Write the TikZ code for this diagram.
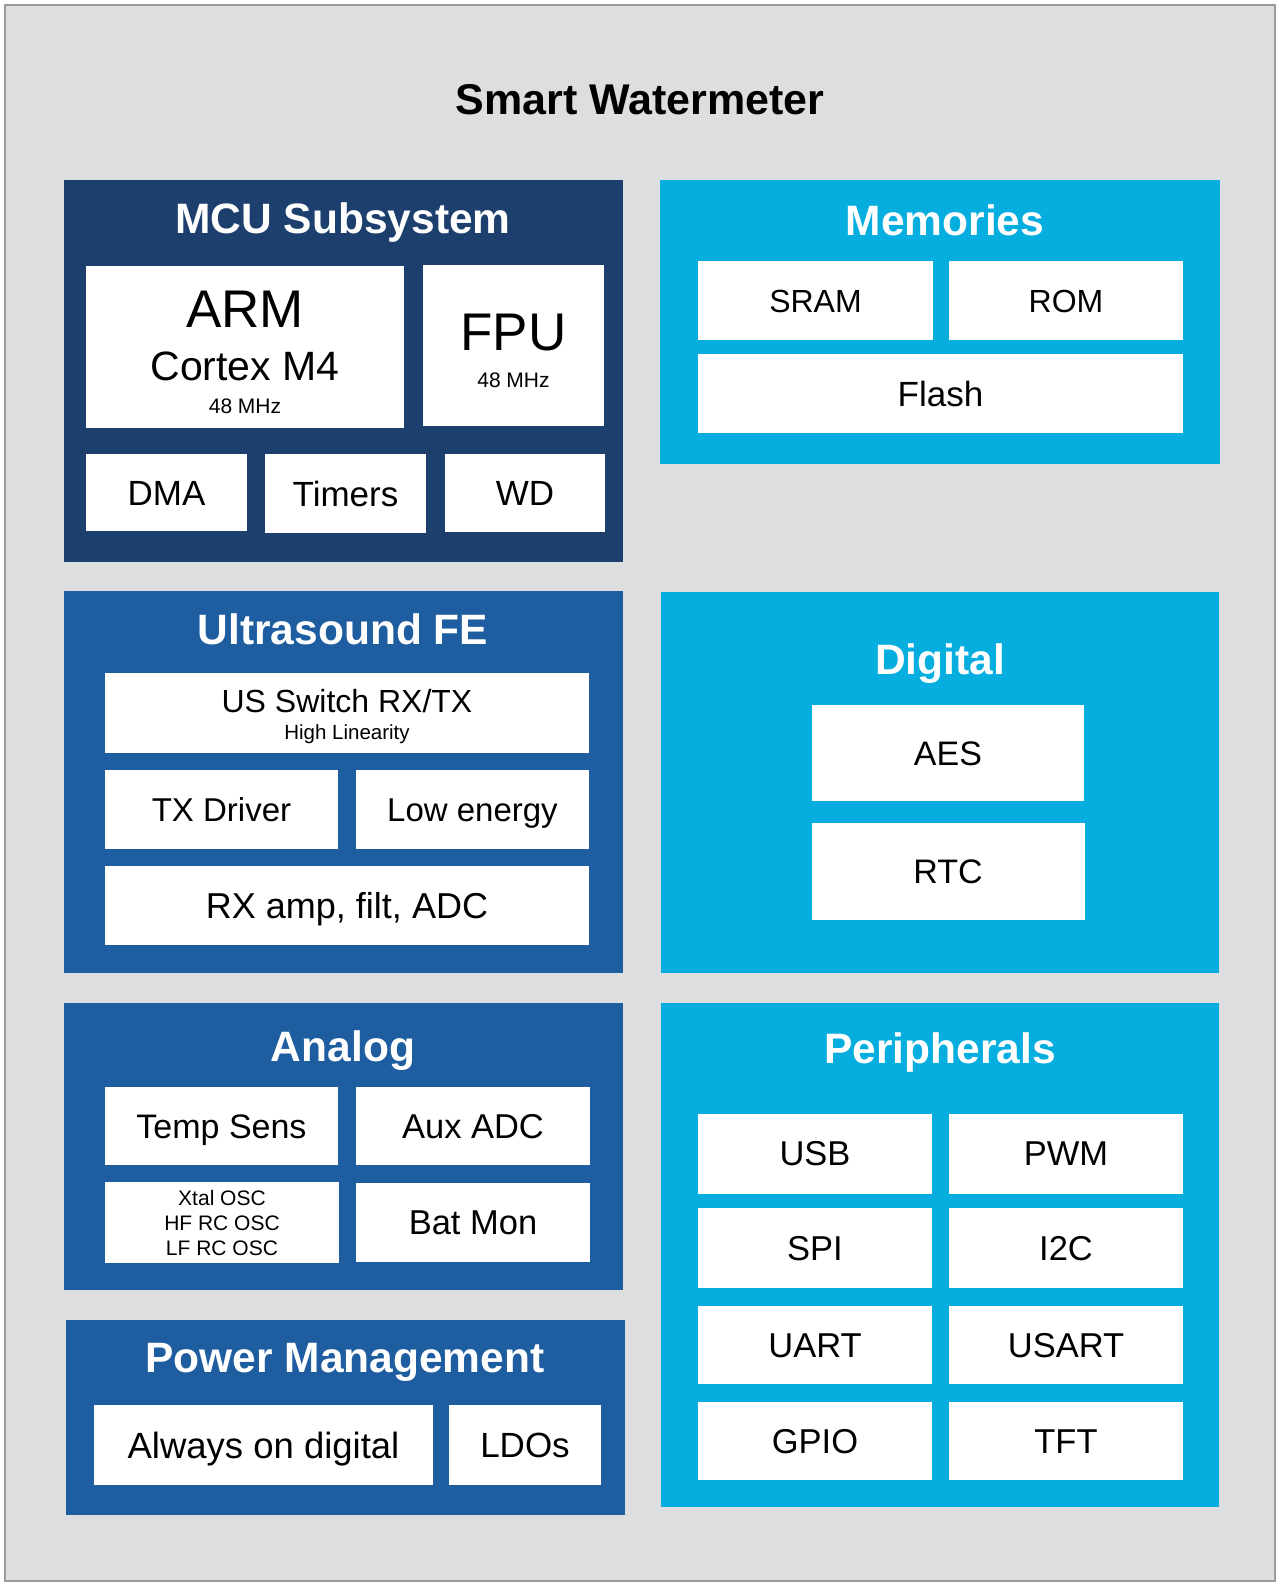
\documentclass[tikz,border=0pt]{standalone}
\usepackage{fontspec}
\setmainfont{Liberation Sans}
\usetikzlibrary{positioning}
\definecolor{wmBack}{HTML}{DCDEE0}
\definecolor{wmFrame}{HTML}{9B9B9B}
\definecolor{wmNavy}{HTML}{1C3F6E}
\definecolor{wmBlue}{HTML}{1E5DA0}
\definecolor{wmCyan}{HTML}{06AEE0}
\newcommand{\wmfs}[1]{\fontsize{#1}{#1}\selectfont}

\begin{document}
\begin{tikzpicture}[x=1pt,y=-1pt,
  g/.style={fill=#1,inner sep=0pt,outer sep=0pt},
  b/.style={fill=white,inner sep=0pt,outer sep=0pt,font=\wmfs{#1},
            text height=0.72*#1pt,text depth=0pt,align=center},
  b/.default=33,
  t/.style={text=white,font=\wmfs{42.5}\bfseries,anchor=base,inner sep=0pt},
  l/.style={font=\wmfs{#1},anchor=base,inner sep=0pt}]
\useasboundingbox (0,0) rectangle (1280,1584);
\fill[white] (0,0) rectangle (1280,1584);
\draw[wmFrame,fill=wmBack,line width=2pt] (5,5) rectangle (1275,1581);
\node[font=\wmfs{43}\bfseries,anchor=base,inner sep=0pt] (title) at (640,115) {Smart Watermeter};

% left column
\node[g=wmNavy,minimum width=559pt,minimum height=382pt] (mcu) at (343.5,371) {};
\node[t] (mcut) at (343,233) {MCU Subsystem};
\node[b,minimum width=318pt,minimum height=162pt] (arm) at (245,347) {};
\node[l=53] (armt) at (245,327) {ARM};
\node[l=41] (armc) at (245,380) {Cortex M4};
\node[l=21] (armf) at (245,413) {48 MHz};
\node[b,minimum width=181pt,minimum height=161pt] (fpu) at (513.5,345.5) {};
\node[l=53] (fput) at (513.5,350) {FPU};
\node[l=21] (fpuf) at (513.5,387) {48 MHz};
\node[b=35,minimum width=161pt,minimum height=77pt] (dma) at (166.5,492.5) {DMA};
\node[b=35,minimum width=161pt,minimum height=79pt] (tmr) at (345.5,493.5) {Timers};
\node[b=35,minimum width=160pt,minimum height=78pt] (wd) at (525,493) {WD};

\node[g=wmBlue,minimum width=559pt,minimum height=382pt] (us) at (343.5,782) {};
\node[t] (ust) at (343,644) {Ultrasound FE};
\node[b,minimum width=484pt,minimum height=80pt] (usw) at (347,713) {};
\node[l=32] (uswt) at (347,712) {US Switch RX/TX};
\node[l=20.5] (uswl) at (347,739) {High Linearity};
\node[b,minimum width=233pt,minimum height=79pt] (txd) at (221.5,809.5) {TX Driver};
\node[b,minimum width=233pt,minimum height=79pt] (lowe) at (472.5,809.5) {Low energy};
\node[b=36,minimum width=484pt,minimum height=79pt] (rxa) at (347,905.5) {RX amp, filt, ADC};

\node[g=wmBlue,minimum width=559pt,minimum height=287pt] (ana) at (343.5,1146.5) {};
\node[t] (anat) at (343,1061) {Analog};
\node[b=34,minimum width=233pt,minimum height=78pt] (temp) at (221.5,1126) {Temp Sens};
\node[b=34.5,minimum width=234pt,minimum height=78pt] (aux) at (473,1126) {Aux ADC};
\node[b,minimum width=234pt,minimum height=81pt] (osc) at (222,1222.5) {};
\node[l=21] (osc1) at (222,1205) {Xtal OSC};
\node[l=21] (osc2) at (222,1230) {HF RC OSC};
\node[l=21] (osc3) at (222,1255) {LF RC OSC};
\node[b=34.5,minimum width=234pt,minimum height=79pt] (bat) at (473,1222.5) {Bat Mon};

\node[g=wmBlue,minimum width=559pt,minimum height=195pt] (pwr) at (345.5,1417.5) {};
\node[t] (pwrt) at (345,1372) {Power Management};
\node[b=36.5,minimum width=339pt,minimum height=80pt] (aod) at (263.5,1445) {Always on digital};
\node[b=35,minimum width=152pt,minimum height=80pt] (ldo) at (525,1445) {LDOs};

% right column
\node[g=wmCyan,minimum width=560pt,minimum height=284pt] (mem) at (940,322) {};
\node[t] (memt) at (945,235) {Memories};
\node[b=32,minimum width=235pt,minimum height=79pt] (sram) at (815.5,300.5) {SRAM};
\node[b=32,minimum width=234pt,minimum height=79pt] (rom) at (1066,300.5) {ROM};
\node[b=35,minimum width=485pt,minimum height=79pt] (flash) at (940.5,393.5) {Flash};

\node[g=wmCyan,minimum width=558pt,minimum height=381pt] (dig) at (940,782.5) {};
\node[t] (digt) at (940,674) {Digital};
\node[b=34,minimum width=272pt,minimum height=96pt] (aes) at (948,753) {AES};
\node[b=34,minimum width=273pt,minimum height=97pt] (rtc) at (948,871.5) {RTC};

\node[g=wmCyan,minimum width=558pt,minimum height=504pt] (per) at (940,1255) {};
\node[t] (pert) at (940,1063) {Peripherals};
\node[b=34.5,minimum width=234pt,minimum height=80pt] (usb) at (815,1153.5) {USB};
\node[b=34.5,minimum width=234pt,minimum height=80pt] (pwm) at (1066,1153.5) {PWM};
\node[b=34.5,minimum width=234pt,minimum height=80pt] (spi) at (815,1248) {SPI};
\node[b=34.5,minimum width=234pt,minimum height=80pt] (i2c) at (1066,1248) {I2C};
\node[b=34.5,minimum width=234pt,minimum height=78pt] (uart) at (815,1345) {UART};
\node[b=34.5,minimum width=234pt,minimum height=78pt] (usart) at (1066,1345) {USART};
\node[b=34.5,minimum width=234pt,minimum height=78pt] (gpio) at (815,1441) {GPIO};
\node[b=34.5,minimum width=234pt,minimum height=78pt] (tft) at (1066,1441) {TFT};
\end{tikzpicture}
\end{document}
